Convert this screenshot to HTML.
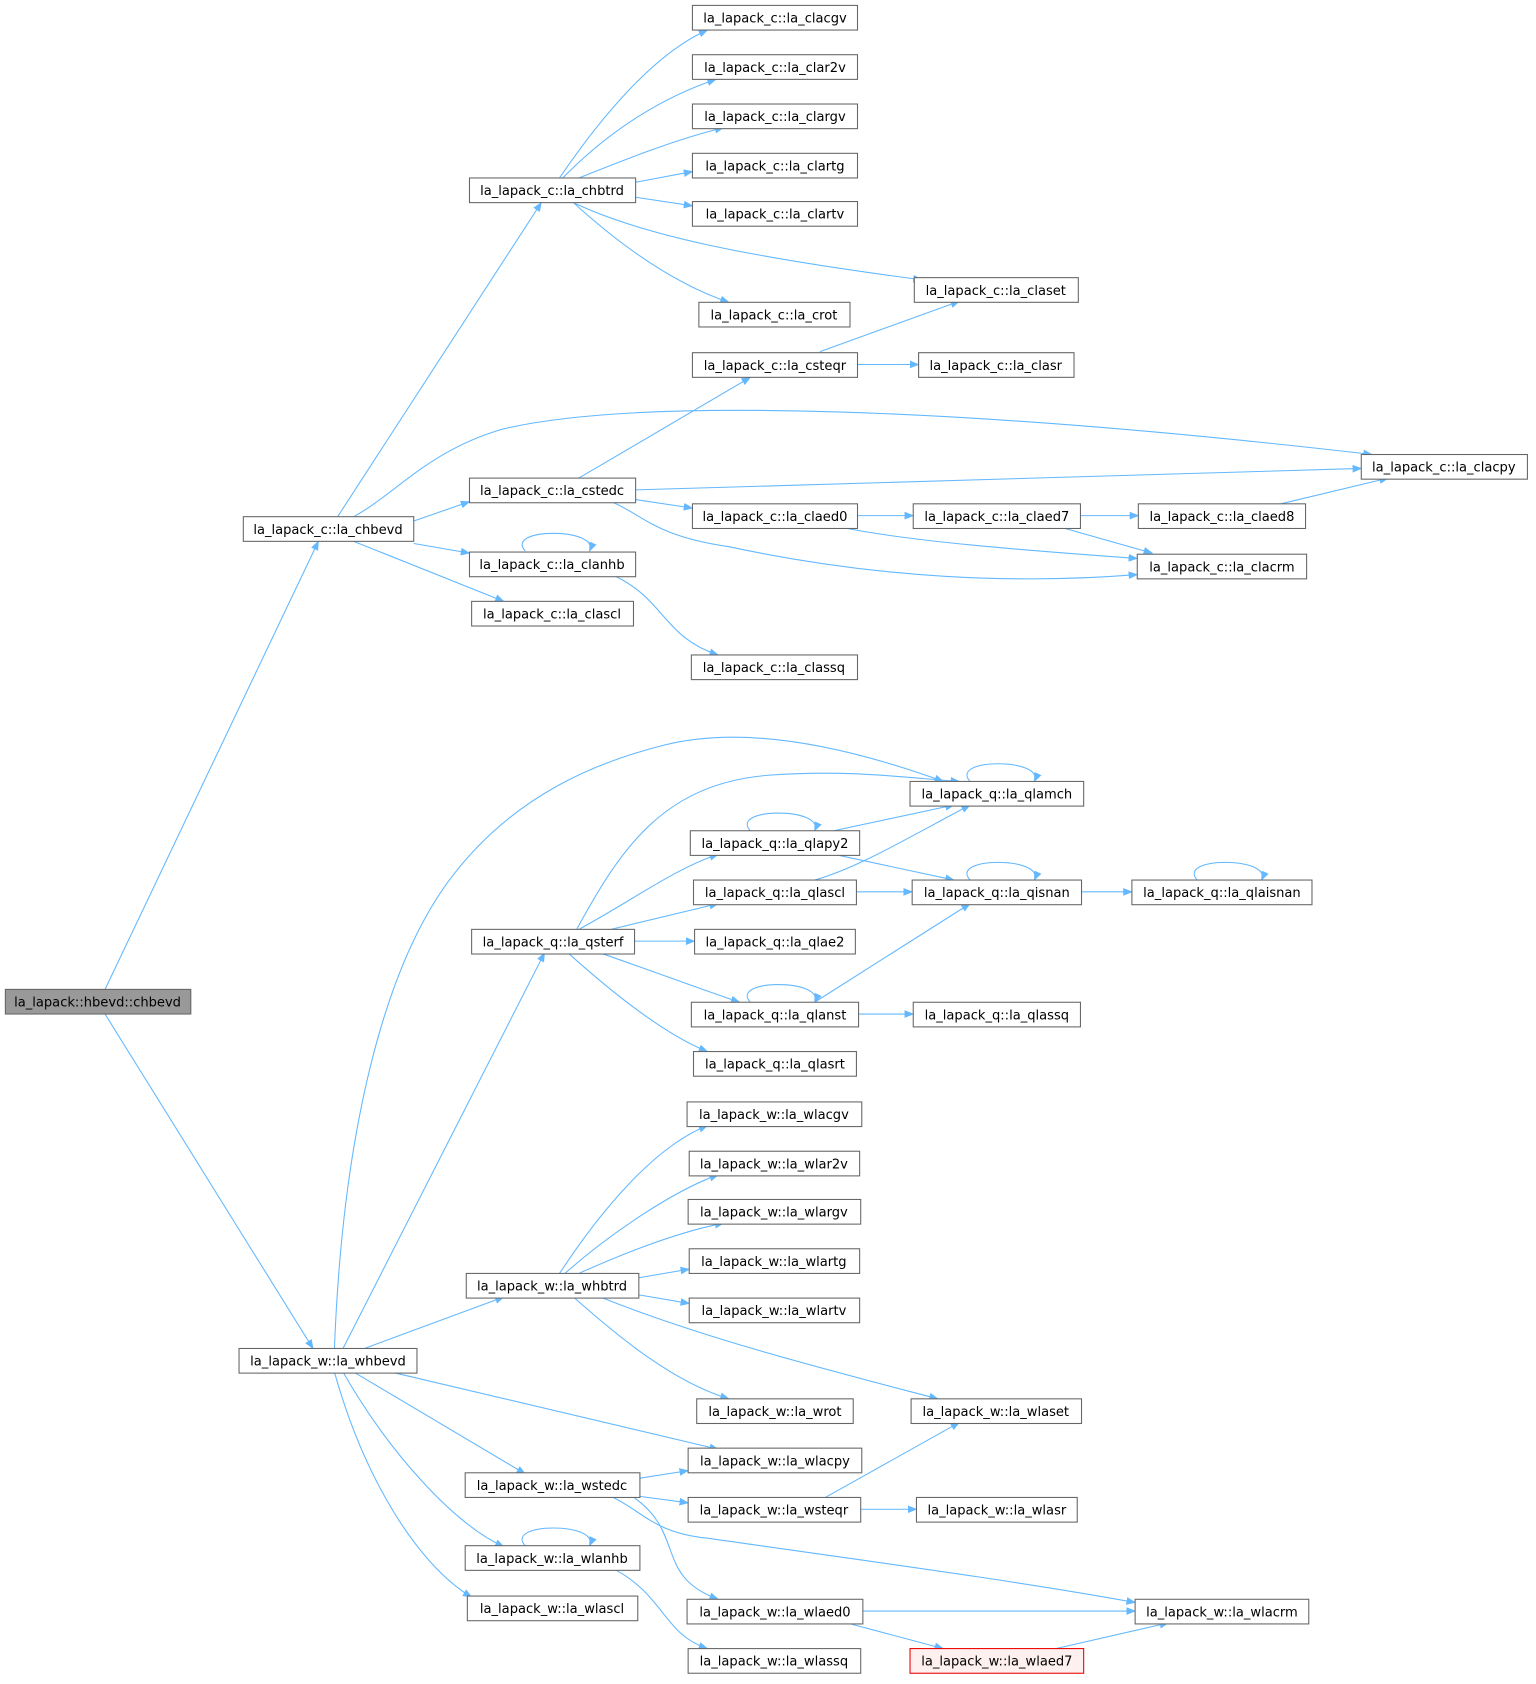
<!DOCTYPE html>
<html><head><meta charset="utf-8"><style>html,body{margin:0;padding:0;background:#fff}svg{display:block}</style></head>
<body>
<svg width="1536" height="1684" viewBox="0 0 1433 1571" xmlns="http://www.w3.org/2000/svg">
<defs><marker id="a" viewBox="0 0 10 10" refX="9" refY="5" markerWidth="9" markerHeight="9" orient="auto" markerUnits="userSpaceOnUse"><path d="M0,1 L10,5 L0,9 z" fill="#63b8ff"/></marker></defs>
<g fill="none" stroke="#63b8ff" stroke-width="1" marker-end="url(#a)">
<path d="M98,923 L297,505"/>
<path d="M98,946 L292,1258"/>
<path d="M315,482 L505,189"/>
<path d="M386,486 L438,468"/>
<path d="M386,507 L438,516"/>
<path d="M330,505 L470,561"/>
<path d="M330,482 C370,460 400,420 470,400 C600,370 900,380 1280,424"/>
<path d="M312,1258 C320,1050 360,900 420,820 C480,740 560,710 620,695 C700,675 800,700 880,729"/>
<path d="M320,1258 L508,889"/>
<path d="M340,1258 L470,1210"/>
<path d="M365,1280 L670,1352"/>
<path d="M330,1280 L490,1375"/>
<path d="M320,1280 C360,1350 420,1420 470,1443"/>
<path d="M312,1280 C340,1380 390,1460 440,1490"/>
<path d="M522,166 C560,110 610,50 660,28"/>
<path d="M525,166 C570,120 620,90 668,74"/>
<path d="M540,166 C580,150 630,130 675,119"/>
<path d="M593,170 L646,160"/>
<path d="M593,184 L646,192"/>
<path d="M535,189 C600,220 700,240 860,261"/>
<path d="M535,189 C580,230 630,265 680,282"/>
<path d="M765,328 L895,281"/>
<path d="M800,340 L857,340"/>
<path d="M540,446 L700,352"/>
<path d="M593,457 L1270,437"/>
<path d="M593,466 L646,474"/>
<path d="M570,468 C600,480 610,500 680,510 C820,540 950,545 1061,536"/>
<path d="M800,481 L852,481"/>
<path d="M785,492 C850,505 950,513 1061,521"/>
<path d="M1008,481 L1062,481"/>
<path d="M990,492 L1075,516"/>
<path d="M1195,470 L1295,446"/>
<path d="M575,538 C620,560 620,595 670,611"/>
<path d="M538,867 C580,790 620,730 720,723 C790,718 840,725 895,729"/>
<path d="M540,867 C590,840 630,810 670,797"/>
<path d="M570,867 L670,843"/>
<path d="M592,878 L648,878"/>
<path d="M560,889 C620,910 660,925 690,935"/>
<path d="M530,889 C570,925 620,965 660,981"/>
<path d="M778,775 L890,751"/>
<path d="M778,797 L890,821"/>
<path d="M760,821 C800,810 850,780 905,751"/>
<path d="M799,832 L851,832"/>
<path d="M1009,832 L1056,832"/>
<path d="M760,935 L905,843"/>
<path d="M801,946 L852,946"/>
<path d="M522,1188 C560,1130 610,1070 660,1050"/>
<path d="M527,1188 C570,1150 630,1110 670,1096"/>
<path d="M540,1188 C580,1170 630,1150 675,1141"/>
<path d="M596,1192 L643,1184"/>
<path d="M596,1208 L643,1216"/>
<path d="M535,1210 C580,1250 630,1290 680,1305"/>
<path d="M560,1210 C660,1250 780,1280 875,1305"/>
<path d="M770,1397 L895,1327"/>
<path d="M803,1408 L855,1408"/>
<path d="M597,1379 L642,1372"/>
<path d="M597,1396 L642,1402"/>
<path d="M590,1396 C640,1430 610,1470 670,1492"/>
<path d="M570,1396 C600,1410 610,1430 660,1435 C800,1455 950,1475 1059,1495"/>
<path d="M805,1503 L1059,1503"/>
<path d="M790,1514 L880,1538"/>
<path d="M985,1538 L1090,1514"/>
<path d="M575,1465 C620,1490 620,1525 660,1538"/>
<path d="M490,514 C470,492 560,492 550,514"/>
<path d="M905,729 C885,707 975,707 965,729"/>
<path d="M700,775 C680,753 770,753 760,775"/>
<path d="M905,821 C885,799 975,799 965,821"/>
<path d="M1117,821 C1097,799 1187,799 1177,821"/>
<path d="M700,935 C680,913 770,913 760,935"/>
<path d="M490,1442 C470,1420 560,1420 550,1442"/>
</g>
<g font-family="DejaVu Sans, Liberation Sans, sans-serif" font-size="12.2" text-anchor="middle">
<g fill="#fff" stroke="#666" stroke-width="1">
<rect x="5" y="923" width="173" height="23" fill="#999"/>
<rect x="227" y="482" width="159" height="23"/>
<rect x="223" y="1258" width="166" height="23"/>
<rect x="438" y="166" width="155" height="23"/>
<rect x="438" y="446" width="155" height="23"/>
<rect x="438" y="515" width="155" height="23"/>
<rect x="440" y="561" width="151" height="23"/>
<rect x="646" y="5" width="154" height="23"/>
<rect x="646" y="51" width="154" height="23"/>
<rect x="646" y="97" width="154" height="23"/>
<rect x="646" y="143" width="154" height="23"/>
<rect x="646" y="188" width="154" height="23"/>
<rect x="652" y="282" width="141" height="23"/>
<rect x="853" y="259" width="153" height="23"/>
<rect x="646" y="329" width="154" height="23"/>
<rect x="857" y="329" width="145" height="23"/>
<rect x="1270" y="424" width="155" height="23"/>
<rect x="646" y="470" width="154" height="23"/>
<rect x="852" y="470" width="156" height="23"/>
<rect x="1062" y="470" width="156" height="23"/>
<rect x="1061" y="517" width="158" height="23"/>
<rect x="645" y="611" width="155" height="23"/>
<rect x="849" y="729" width="162" height="23"/>
<rect x="644" y="775" width="158" height="23"/>
<rect x="647" y="821" width="152" height="23"/>
<rect x="851" y="821" width="158" height="23"/>
<rect x="1056" y="821" width="168" height="23"/>
<rect x="440" y="867" width="152" height="23"/>
<rect x="648" y="867" width="150" height="23"/>
<rect x="645" y="935" width="156" height="23"/>
<rect x="852" y="935" width="156" height="23"/>
<rect x="647" y="981" width="152" height="23"/>
<rect x="641" y="1028" width="163" height="23"/>
<rect x="643" y="1074" width="159" height="23"/>
<rect x="642" y="1119" width="161" height="23"/>
<rect x="643" y="1165" width="159" height="23"/>
<rect x="643" y="1211" width="159" height="23"/>
<rect x="435" y="1188" width="161" height="23"/>
<rect x="650" y="1305" width="146" height="23"/>
<rect x="850" y="1305" width="159" height="23"/>
<rect x="642" y="1351" width="162" height="23"/>
<rect x="434" y="1374" width="163" height="23"/>
<rect x="642" y="1397" width="161" height="23"/>
<rect x="855" y="1397" width="150" height="23"/>
<rect x="434" y="1442" width="163" height="23"/>
<rect x="436" y="1489" width="159" height="23"/>
<rect x="641" y="1492" width="164" height="23"/>
<rect x="1059" y="1492" width="162" height="23"/>
<rect x="642" y="1538" width="161" height="23"/>
<rect x="849" y="1538" width="162" height="23" fill="#fff0f0" stroke="#e00"/>
</g>
<g fill="#000">
<text x="91" y="939">la_lapack::hbevd::chbevd</text>
<text x="306" y="498">la_lapack_c::la_chbevd</text>
<text x="306" y="1274">la_lapack_w::la_whbevd</text>
<text x="515" y="182">la_lapack_c::la_chbtrd</text>
<text x="515" y="462">la_lapack_c::la_cstedc</text>
<text x="515" y="531">la_lapack_c::la_clanhb</text>
<text x="515" y="577">la_lapack_c::la_clascl</text>
<text x="723" y="21">la_lapack_c::la_clacgv</text>
<text x="723" y="67">la_lapack_c::la_clar2v</text>
<text x="723" y="113">la_lapack_c::la_clargv</text>
<text x="723" y="159">la_lapack_c::la_clartg</text>
<text x="723" y="204">la_lapack_c::la_clartv</text>
<text x="722" y="298">la_lapack_c::la_crot</text>
<text x="929" y="275">la_lapack_c::la_claset</text>
<text x="723" y="345">la_lapack_c::la_csteqr</text>
<text x="929" y="345">la_lapack_c::la_clasr</text>
<text x="1347" y="440">la_lapack_c::la_clacpy</text>
<text x="723" y="486">la_lapack_c::la_claed0</text>
<text x="930" y="486">la_lapack_c::la_claed7</text>
<text x="1140" y="486">la_lapack_c::la_claed8</text>
<text x="1140" y="533">la_lapack_c::la_clacrm</text>
<text x="722" y="627">la_lapack_c::la_classq</text>
<text x="930" y="745">la_lapack_q::la_qlamch</text>
<text x="723" y="791">la_lapack_q::la_qlapy2</text>
<text x="723" y="837">la_lapack_q::la_qlascl</text>
<text x="930" y="837">la_lapack_q::la_qisnan</text>
<text x="1140" y="837">la_lapack_q::la_qlaisnan</text>
<text x="516" y="883">la_lapack_q::la_qsterf</text>
<text x="723" y="883">la_lapack_q::la_qlae2</text>
<text x="723" y="951">la_lapack_q::la_qlanst</text>
<text x="930" y="951">la_lapack_q::la_qlassq</text>
<text x="723" y="997">la_lapack_q::la_qlasrt</text>
<text x="722" y="1044">la_lapack_w::la_wlacgv</text>
<text x="722" y="1090">la_lapack_w::la_wlar2v</text>
<text x="722" y="1135">la_lapack_w::la_wlargv</text>
<text x="722" y="1181">la_lapack_w::la_wlartg</text>
<text x="722" y="1227">la_lapack_w::la_wlartv</text>
<text x="515" y="1204">la_lapack_w::la_whbtrd</text>
<text x="723" y="1321">la_lapack_w::la_wrot</text>
<text x="929" y="1321">la_lapack_w::la_wlaset</text>
<text x="723" y="1367">la_lapack_w::la_wlacpy</text>
<text x="515" y="1390">la_lapack_w::la_wstedc</text>
<text x="722" y="1413">la_lapack_w::la_wsteqr</text>
<text x="930" y="1413">la_lapack_w::la_wlasr</text>
<text x="515" y="1458">la_lapack_w::la_wlanhb</text>
<text x="515" y="1505">la_lapack_w::la_wlascl</text>
<text x="723" y="1508">la_lapack_w::la_wlaed0</text>
<text x="1140" y="1508">la_lapack_w::la_wlacrm</text>
<text x="722" y="1554">la_lapack_w::la_wlassq</text>
<text x="930" y="1554">la_lapack_w::la_wlaed7</text>
</g>
</g>
</svg>
</body></html>
